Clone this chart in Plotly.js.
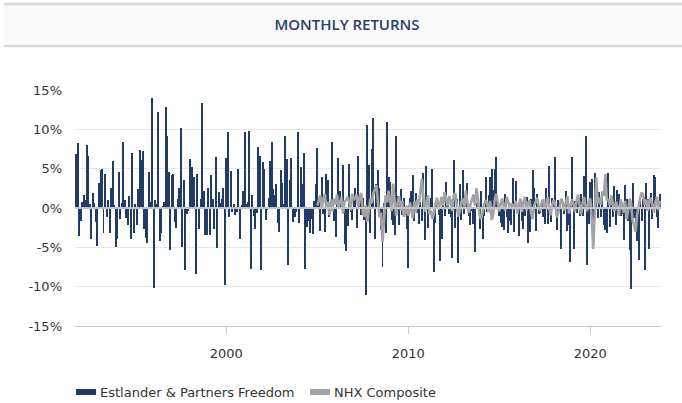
<!DOCTYPE html>
<html>
<head>
<meta charset="utf-8">
<script src="https://cdn.plot.ly/plotly-3.0.1.min.js"></script>
<style>
  html, body { margin: 0; padding: 0; background: #ffffff; }
  #chart { width: 682px; height: 403px; }
</style>
</head>
<body>
<div id="chart"></div>
<script>
// ---- Data (monthly returns, %) ----
const estlanderStart = '1991-10';
const estlanderReturns = [
  6.9, 8.3, -3.6, -1.6, 0.8, 1.6, 1.0, 8.0, 6.6, 0.5,
  -4.0, 1.9, 0.6, -1.8, -4.8, 3.2, 4.8, 4.9, -3.2, 4.3,
  -1.2, 1.0, -3.2, 2.5, 6.0, 0.4, -4.9, -3.9, 4.6, -1.4,
  0.6, 8.4, 1.0, -1.3, -2.1, 1.5, -3.9, 7.0, -3.2, 0.5,
  -2.2, 2.4, 7.4, 6.1, 7.3, -2.7, -3.8, -4.5, 4.6,
  0.8, 14.0, -10.2, 1.0, 0.5, 12.2, -4.2, -3.2, 0.3, 0.8,
  12.8, 9.1, 4.6, -5.3, 4.2, 4.3, -1.8, -2.5, 1.1, 2.5,
  10.2, -4.9, 3.6, -7.9, -0.7, -0.4, 6.2, 5.2, 1.4, 3.9,
  -8.4, 4.3, -2.7, 1.1, 13.3, 2.2, -3.4, -3.4, 2.6, -3.4,
  4.2, 1.1, -2.7, 6.5, -5.1, 2.0, 0.6, 1.1, 2.6, -9.8,
  6.3, 9.7, -1.1, 4.7, -0.5, 0.5, -0.9, -0.5, 5.0, -4.0,
  0.4, 2.2, 9.6, 0.5, 0.8, 9.8, -7.7, 1.6, -1.0, -2.7,
  -0.6, 7.7, 6.6, -7.9, 5.8, 4.9, -1.5,
  -0.3, 1.3, 6.0, 8.4, 2.4, 1.6, 3.0, -1.9, -3.1, 4.8,
  3.2, 0.5, 9.2, 6.2, -7.2, 3.5, 6.4, -1.8, -1.1,
  -0.5, 9.7, -1.9, 5.2, 3.1, 7.0, -7.8, -2.4, -1.6, -3.2,
  -1.4, -3.3, 0.9, 3.1, 7.6, 1.3, -2.9, 4.0, -0.8, -3.1,
  4.3, 3.6, -1.1, -0.4, 8.4, -1.6, -3.7, 0.6, 6.4, 2.2,
  0.8, 5.5, -4.6, -5.5, -2.3, 5.6, -0.5, -1.5, 1.4, 2.6,
  -2.6, 6.6, 1.0,
  -0.9, 1.3, -1.5, -11.1, 10.5, 5.5, -3.2, 7.5, 11.4, -4.0,
  3.0, 4.8, 2.6, -2.8, -7.5, 0.6, -3.2, 10.9, 4.0, 3.3,
  -1.5, -2.2, -3.4, 9.2, 1.5, -2.1, 2.4, -0.9, 1.3, -0.7,
  -2.7, -7.6, 1.3, 2.1, 4.2, -1.7, 1.9, -0.6, -2.0, 0.7,
  -1.6, 4.5, -4.1, 5.4, -2.6, -0.5, 1.3, 5.0, -8.1, -1.9,
  1.1, -0.9, -6.8, -4.0, 1.0, -1.0, 3.3, 0.5, -0.7, -1.1,
  -6.4, 6.1,
  -2.5, 1.2, -7.0, 3.1, -1.5, 4.8, -0.7, 2.0, 3.2, -1.0,
  -2.2, -0.4, -2.0, -5.6, 0.6, 0.8, -2.7, 2.2, -4.0, -1.0,
  4.0, -0.5, 1.6, 4.0, 5.0, 2.3, 4.9, 6.5, 0.5, -1.0,
  -1.9, -2.4, -2.8, 1.8, -1.1, -3.2, -1.7, -2.1, 3.8, -3.1,
  3.4, -0.6, -3.6, 0.7, -1.7, -2.7, -1.0, 1.4, -4.4, -3.1,
  1.1, 4.8, 2.5, -2.9, 1.8, -0.8, -0.6, 1.0, -1.2, -2.0,
  2.5, -2.0, 5.4,
  -1.8, 1.3, 0.5, 6.5, -2.8, 1.0, -0.5, -5.2, 0.8, -0.7,
  2.2, -2.9, -2.2, -6.9, 6.5, -5.2, 0.9, -0.6, 1.6, -1.0,
  1.8, -1.0, 4.1, 9.2, -7.3, -2.0, 3.3, 3.7, -1.5, 4.4,
  1.9, -1.3, 2.0, -1.2, 1.6, -2.1, -2.8, -3.2, 4.5, -2.4,
  0.8, -1.1, 2.8, -2.1, 2.3, 1.8, -1.0, -0.8, -4.1, 2.9,
  1.2, -1.6, -5.3, -10.3, 3.2, -1.3, -1.9, -4.2, -6.6, 1.2,
  -1.6, 1.2, -7.9, 3.2, 1.2, -5.2, 1.9, -1.4, 4.2, 3.9,
  -1.2, -2.5, 1.8
];

const nhxStart = '2005-01';
const nhxReturns = [
  0.3, 1.0, 1.6, 0.0, 1.2, 1.8, -0.1, 0.8, -0.9, 1.1,
  -0.4, 1.2, 0.5, 1.7, -0.1, 0.8, 1.4, -0.7, 0.8, 1.0,
  1.4, 0.8, -0.3, 1.8, 1.0, 1.3, 1.7, 0.1, 1.4, 1.9,
  -0.5, -1.1, 0.4, -1.8, -0.5, 1.2, 0.6, 1.9, 2.4, 2.9,
  0.8, -1.2, -0.6, -4.3, -1.5, 1.6, 0.7, 2.2, 1.0, -0.4,
  3.1, 0.9, -1.0, 0.6, 1.5, -0.3, 0.9, -1.1, -0.6, 0.3,
  -1.0, 0.7, -0.4, -1.3, 0.8, -0.6, 1.1, 0.4, 2.1, 3.7,
  1.2, -0.5, 0.9, 1.6, -0.8, -0.3, -1.4, -0.7, 0.5, 1.3,
  -0.2, 0.8, 1.4, 0.3, 2.0, 1.1, 0.2, 1.5, 0.9, -0.4,
  1.6, 1.9, 0.6, -1.1, -0.3, 0.8, 1.2, 0.1, 2.2, 0.8,
  -0.6, 0.4, 1.0, 1.7, 0.3, 2.5, 1.1, -0.9, -1.4, -0.2,
  0.4, 1.0, 0.6, -0.5, 0.9, -1.5, -0.8, 1.0, 1.8, 0.7,
  -0.4, 0.5, 1.2, 0.3, -0.3, 1.4, 0.8, 0.1, 0.6, -0.2,
  0.4, 0.9, -0.7, 0.5, 1.2, -0.5, 0.8, 1.4, -0.3, 0.6,
  1.0, -0.6, -1.4, 0.3, 0.9, 1.3, 0.2, -0.4, 0.7, 1.1,
  -0.1, 0.8, 1.4, -0.2, -0.9, 0.5, 1.0, 0.3, -1.2, -0.6,
  0.4, 1.2, 0.6, -0.3, 0.8, 1.5, -0.7, 0.2, 1.1, 0.5,
  -0.5, 0.9, 1.7, 0.4, -0.8, 0.6, 1.4, 0.2, -0.4, 0.9,
  1.2, -1.3, -5.2, -0.8, 3.9, 0.6, 1.3, 0.4, 2.1, 1.5,
  4.3, 0.9, 1.1, 0.3, 1.6, 0.5, -0.4, 0.8, 0.1, -1.0,
  1.1, 0.4, -0.6, 0.9, -1.4, -0.3, 1.2, 0.6, -1.6, -2.2,
  -3.0, -0.8, 0.5, 1.3, 2.0, 1.6, 0.4, 1.1, -0.4, 0.9,
  1.3, 0.2, -0.6, 0.8, 1.4, -0.3, 0.9
];

const seriesNames = ['Estlander & Partners Freedom', 'NHX Composite'];
const yTickVals = [-15, -10, -5, 0, 5, 10, 15];
const yTickText = ['-15%', '-10%', '-5%', '0%', '5%', '10%', '15%'];
const xTickVals = ['2000-01-01', '2010-01-01', '2020-01-01'];
const xTickText = ['2000', '2010', '2020'];
const chartTitle = 'MONTHLY RETURNS';

// ---- helpers ----
function monthDates(start, n) {
  const [y0, m0] = start.split('-').map(Number);
  const out = [];
  for (let i = 0; i < n; i++) {
    const t = (m0 - 1) + i;
    const y = y0 + Math.floor(t / 12);
    const m = (t % 12) + 1;
    out.push(y + '-' + String(m).padStart(2, '0') + '-01');
  }
  return out;
}

const navy = '#223a66';
const gray = '#a3a3a3';
const textFont = 'DejaVu Sans, Verdana, sans-serif';

const estX = monthDates(estlanderStart, estlanderReturns.length);
const nhxX = monthDates(nhxStart, nhxReturns.length);

const traces = [
  {
    type: 'bar',
    name: seriesNames[0],
    x: estX,
    y: estlanderReturns,
    width: 40 * 86400000,
    marker: { color: navy, line: { width: 0 } },
    showlegend: false,
    hoverinfo: 'x+y'
  },
  {
    type: 'scatter',
    mode: 'lines',
    name: seriesNames[1],
    x: nhxX,
    y: nhxReturns,
    line: { color: gray, width: 2.6 },
    showlegend: false,
    hoverinfo: 'x+y'
  }
];

// Layout geometry (pixels)
const W = 682, H = 403;
const mL = 75, mR = 21, mT = 90, mB = 77;
const pw = W - mL - mR, ph = H - mT - mB;
const px2x = p => (p - mL) / pw;
const py2y = p => (H - mB - p) / ph;

const shapes = [
  // title band
  { type: 'rect', xref: 'paper', yref: 'paper', x0: px2x(4), x1: px2x(682), y0: py2y(46), y1: py2y(4),
    fillcolor: '#fafafa', line: { width: 0 }, layer: 'below' },
  { type: 'line', xref: 'paper', yref: 'paper', x0: px2x(4), x1: px2x(682), y0: py2y(4), y1: py2y(4),
    line: { color: '#d9d9d9', width: 2.5 } },
  { type: 'line', xref: 'paper', yref: 'paper', x0: px2x(4), x1: px2x(682), y0: py2y(46), y1: py2y(46),
    line: { color: '#d9d9d9', width: 2.5 } },
  // zero line
  { type: 'line', xref: 'paper', yref: 'y', x0: 0, x1: 1, y0: 0, y1: 0,
    line: { color: '#bfc3ca', width: 2 }, layer: 'above' },
  // legend swatches
  { type: 'rect', xref: 'paper', yref: 'paper', x0: px2x(76), x1: px2x(96), y0: py2y(395), y1: py2y(389),
    fillcolor: navy, line: { width: 0 } },
  { type: 'rect', xref: 'paper', yref: 'paper', x0: px2x(310), x1: px2x(330), y0: py2y(395), y1: py2y(389),
    fillcolor: gray, line: { width: 0 } }
];

const annotations = [
  { xref: 'paper', yref: 'paper', x: px2x(98), y: py2y(392), xanchor: 'left', yanchor: 'middle',
    text: seriesNames[0], showarrow: false,
    font: { family: textFont, size: 13, color: '#333333' } },
  { xref: 'paper', yref: 'paper', x: px2x(332), y: py2y(392), xanchor: 'left', yanchor: 'middle',
    text: seriesNames[1], showarrow: false,
    font: { family: textFont, size: 13, color: '#333333' } }
];

const layout = {
  width: W, height: H,
  margin: { l: mL, r: mR, t: mT, b: mB, pad: 0 },
  paper_bgcolor: '#ffffff',
  plot_bgcolor: '#ffffff',
  title: {
    text: chartTitle,
    x: 347 / W, xref: 'container', xanchor: 'center',
    y: 1 - 25 / H, yref: 'container', yanchor: 'middle',
    font: { family: 'Open Sans, sans-serif', size: 15, color: '#2b3e66', weight: 600 }
  },
  barmode: 'overlay',
  bargap: 0,
  showlegend: false,
  xaxis: {
    type: 'date',
    range: ['1991-09-07', '2023-11-22'],
    tickvals: xTickVals,
    ticktext: xTickText,
    showgrid: false,
    zeroline: false,
    showline: true,
    linecolor: '#c8c8c8',
    linewidth: 1,
    ticks: 'outside',
    ticklen: 7,
    tickcolor: '#c8c8c8',
    ticklabelstandoff: 8,
    tickfont: { family: textFont, size: 13, color: '#333333' },
    fixedrange: true
  },
  yaxis: {
    range: [-15, 15],
    tickvals: yTickVals,
    ticktext: yTickText,
    showgrid: true,
    gridcolor: '#e6e6e6',
    gridwidth: 1,
    zeroline: false,
    showline: false,
    ticks: '',
    ticklabelstandoff: 12,
    tickfont: { family: textFont, size: 13, color: '#333333' },
    fixedrange: true
  },
  shapes: shapes,
  annotations: annotations
};

Plotly.newPlot('chart', traces, layout, { displayModeBar: false, staticPlot: true });
</script>
</body>
</html>
